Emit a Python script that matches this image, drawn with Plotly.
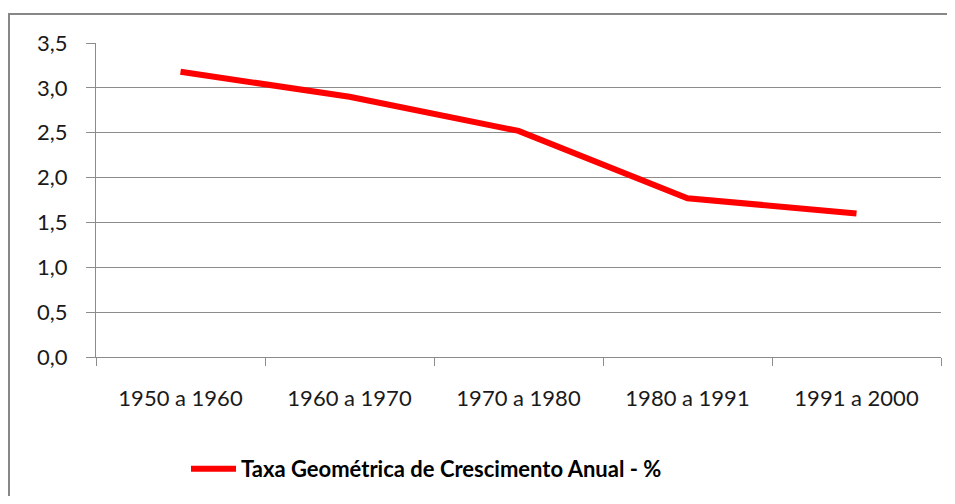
import plotly.graph_objects as go

categories = ["1950 a 1960", "1960 a 1970", "1970 a 1980", "1980 a 1991", "1991 a 2000"]
taxa = [3.18, 2.90, 2.52, 1.77, 1.60]
series_name = "Taxa Geométrica de Crescimento Anual - %"
y_ticks = [0, 0.5, 1.0, 1.5, 2.0, 2.5, 3.0, 3.5]
y_tick_labels = ["0,0", "0,5", "1,0", "1,5", "2,0", "2,5", "3,0", "3,5"]

# page body has an 8px margin; figure coords = page coords - 8
W, H = 939, 488
L, R, T, B = 88, 6, 35, 139
pw, ph = W - L - R, H - T - B

def px_x(p):
    return (p - L) / pw

def px_y(p):
    return 1 - (p - T) / ph

fig = go.Figure()
fig.add_trace(go.Scatter(
    x=categories, y=taxa, mode="lines", name=series_name,
    line=dict(color="#FF0000", width=6),
))

grid = "#8c8c8c"
border = dict(color="#878787", width=2)
fig.update_layout(
    width=W, height=H,
    margin=dict(l=L, r=R, t=T, b=B),
    paper_bgcolor="white", plot_bgcolor="white",
    font=dict(family="Lato, 'Open Sans', sans-serif", size=22, color="#1a1a1a"),
    showlegend=True,
    legend=dict(
        orientation="h", x=px_x(178), xanchor="left", y=px_y(461), yanchor="middle",
        font=dict(size=22, color="#000000", family="Lato, sans-serif", weight="bold"),
        itemwidth=45, bgcolor="rgba(0,0,0,0)",
    ),
    shapes=[
        dict(type="line", xref="paper", yref="paper",
             x0=px_x(1), x1=px_x(1), y0=px_y(5), y1=px_y(H + 5), line=border, layer="below"),
        dict(type="line", xref="paper", yref="paper",
             x0=px_x(0), x1=px_x(W + 5), y0=px_y(6), y1=px_y(6), line=border, layer="below"),
    ],
)
fig.update_xaxes(
    type="category", range=[-0.5, 4.5],
    showline=True, linecolor=grid, linewidth=1,
    ticks="outside", ticklen=8, tickcolor=grid, tickson="boundaries",
    showgrid=False, ticklabelstandoff=22, fixedrange=True,
)
fig.update_yaxes(
    range=[0, 3.5], tickvals=y_ticks, ticktext=y_tick_labels,
    showline=True, linecolor=grid, linewidth=1,
    ticks="outside", ticklen=9, tickcolor=grid,
    showgrid=True, gridcolor=grid, gridwidth=1, zeroline=False,
    ticklabelstandoff=14, fixedrange=True,
)
fig.write_html("out.html")
